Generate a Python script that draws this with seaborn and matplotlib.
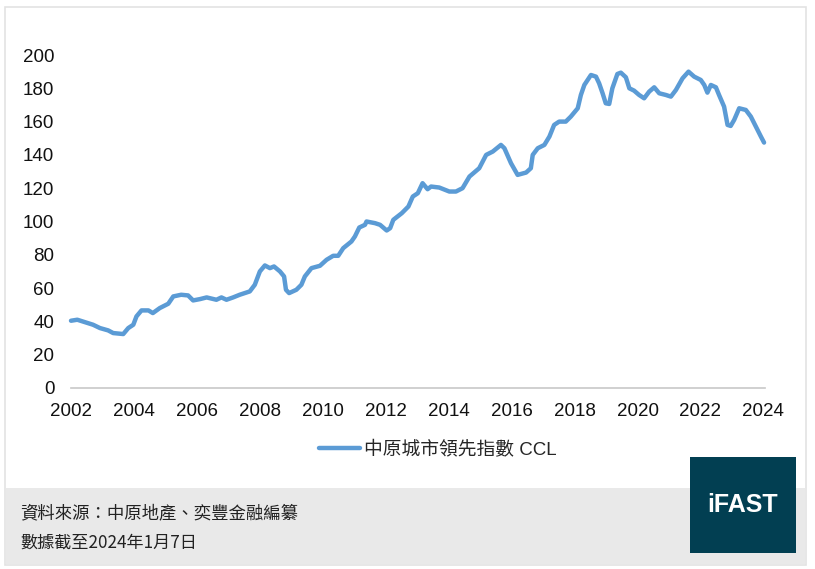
import matplotlib
matplotlib.use("Agg")
import matplotlib.pyplot as plt
import seaborn as sns
import pandas as pd
from matplotlib.patches import Rectangle

# 中原城市領先指數 CCL (讀圖估算)
years = [2002.0, 2002.2, 2002.7, 2002.92, 2003.18, 2003.34, 2003.66, 2003.82, 2003.98, 2004.08,
         2004.24, 2004.46, 2004.6, 2004.82, 2005.09, 2005.25, 2005.5, 2005.72, 2005.88, 2006.1,
         2006.31, 2006.62, 2006.78, 2006.94, 2007.15, 2007.36, 2007.68, 2007.84, 2008.0, 2008.16,
         2008.32, 2008.45, 2008.64, 2008.77, 2008.83, 2008.93, 2009.16, 2009.32, 2009.43, 2009.64,
         2009.91, 2010.12, 2010.33, 2010.49, 2010.65, 2010.91, 2011.02, 2011.16, 2011.34, 2011.39,
         2011.66, 2011.82, 2012.03, 2012.14, 2012.24, 2012.51, 2012.72, 2012.86, 2013.02, 2013.17,
         2013.33, 2013.44, 2013.7, 2014.02, 2014.23, 2014.44, 2014.66, 2014.97, 2015.19, 2015.4,
         2015.66, 2015.77, 2015.98, 2016.19, 2016.46, 2016.61, 2016.67, 2016.83, 2017.04, 2017.2,
         2017.35, 2017.51, 2017.72, 2017.88, 2018.1, 2018.2, 2018.31, 2018.52, 2018.68, 2018.78,
         2018.89, 2018.99, 2019.1, 2019.2, 2019.36, 2019.47, 2019.63, 2019.74, 2019.89, 2020.05,
         2020.21, 2020.37, 2020.53, 2020.69, 2020.9, 2021.06, 2021.22, 2021.43, 2021.62, 2021.8,
         2022.01, 2022.12, 2022.22, 2022.33, 2022.49, 2022.59, 2022.75, 2022.86, 2022.96, 2023.07,
         2023.23, 2023.44, 2023.6, 2023.76, 2023.92, 2024.02]
ccl = [40.4, 41.0, 38.0, 36.0, 34.6, 33.0, 32.4, 36.0, 38.0, 43.0,
       46.6, 46.6, 45.0, 48.0, 50.6, 55.0, 56.0, 55.6, 52.6, 53.4,
       54.4, 53.0, 54.4, 53.0, 54.4, 56.0, 58.0, 62.0, 70.0, 73.6,
       72.0, 73.0, 70.0, 67.0, 59.0, 57.0, 59.0, 62.0, 67.0, 72.0,
       73.4, 77.0, 79.4, 79.4, 84.0, 88.0, 91.0, 96.4, 98.0, 100.0,
       99.0, 98.0, 94.6, 96.0, 101.0, 105.0, 109.0, 115.0, 117.0, 123.0,
       119.4, 121.0, 120.4, 118.0, 118.0, 120.0, 127.0, 132.0, 140.0, 142.0,
       146.0, 144.0, 135.0, 128.0, 129.4, 132.0, 140.0, 144.0, 146.0, 151.0,
       158.0, 160.0, 160.0, 163.0, 168.0, 176.0, 182.0, 188.0, 187.0, 183.0,
       177.0, 171.0, 170.6, 180.0, 188.6, 189.4, 186.6, 180.0, 178.6, 176.0,
       174.0, 178.0, 180.6, 177.0, 176.0, 175.0, 179.0, 186.0, 190.0, 187.0,
       185.0, 182.0, 177.4, 182.0, 180.6, 176.0, 169.0, 158.0, 157.4, 161.0,
       168.0, 167.0, 163.0, 157.0, 151.0, 147.4]

x_ticks = list(range(2002, 2025, 2))
y_ticks = list(range(0, 201, 20))

series_name = "中原城市領先指數 CCL"
source_text = "資料來源：中原地產、奕豐金融編纂"
date_text = "數據截至2024年1月7日"

df = pd.DataFrame({"year": years, "value": ccl})

sns.set_theme(style="white")
plt.rcParams["font.family"] = ["Liberation Sans", "Noto Sans CJK TC", "DejaVu Sans"]

fig = plt.figure(figsize=(8.15, 5.69), dpi=100)
W, H = 815, 569

# 外框與底部灰色區
fig.patches.append(Rectangle((5 / W, 1 - 565 / H), 801 / W, 558 / H, transform=fig.transFigure,
                             facecolor="white", edgecolor="#e3e3e3", lw=1.2, zorder=0))
fig.patches.append(Rectangle((6 / W, 1 - 564 / H), 799 / W, 76 / H, transform=fig.transFigure,
                             facecolor="#e9e9e9", edgecolor="none", zorder=1))
fig.patches.append(Rectangle((690 / W, 1 - 553 / H), 106 / W, 96 / H, transform=fig.transFigure,
                             facecolor="#023f52", edgecolor="none", zorder=2))

ax = fig.add_axes([71 / W, 1 - 388 / H, 694 / W, 333 / H])
ax.set_zorder(5)
ax.set_facecolor("none")
sns.lineplot(data=df, x="year", y="value", ax=ax, color="#5b9bd5", lw=3.2,
             label=series_name, legend=False)

ax.set_xlim(2002, 2024.05)
ax.set_ylim(0, 200)
ax.set_xticks(x_ticks)
ax.set_yticks(y_ticks)
ax.set_xlabel("")
ax.set_ylabel("")
for s in ["top", "right", "left"]:
    ax.spines[s].set_visible(False)
ax.spines["bottom"].set_color("#c8c8c8")
ax.spines["bottom"].set_linewidth(1.2)
ax.tick_params(axis="x", direction="out", length=6, width=1.2, color="#c8c8c8",
               labelsize=13.5, labelcolor="#111111", pad=5)
ax.tick_params(axis="y", length=0, labelsize=13.5, labelcolor="#111111", pad=12)
for ln in ax.lines:
    ln.set_clip_on(False)

handles, labels = ax.get_legend_handles_labels()
leg = fig.legend(handles, labels, loc="center", bbox_to_anchor=(438 / W, 1 - 450 / H),
                 frameon=False, fontsize=13.5, handlelength=2.2, handletextpad=0.2)
leg.set_zorder(6)

fig.text(20 / W, 1 - 513 / H, source_text, fontsize=12.5, va="center", ha="left",
         family=["Noto Sans CJK TC", "DejaVu Sans"], color="#222222", zorder=6)
fig.text(20 / W, 1 - 543 / H, date_text, fontsize=12.3, va="center", ha="left",
         family=["Noto Sans CJK TC", "DejaVu Sans"], color="#222222", zorder=6)
fig.text(743 / W, 1 - 505 / H, "iFAST", fontsize=18, fontweight="bold", color="white",
         ha="center", va="center", family=["Liberation Sans"], zorder=6)

fig.savefig("out.png", dpi=100)
